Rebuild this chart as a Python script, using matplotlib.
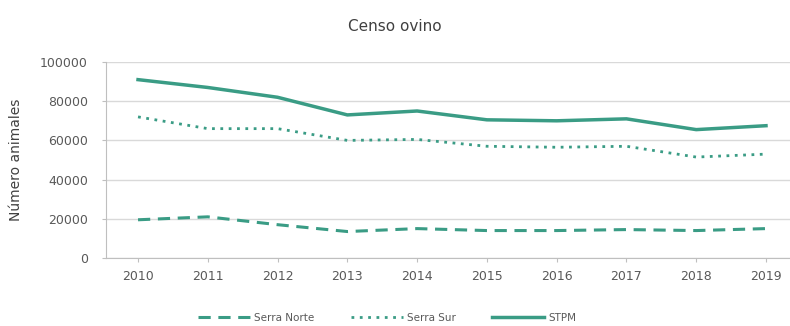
import matplotlib
matplotlib.use("Agg")
import matplotlib.pyplot as plt

years = [2010, 2011, 2012, 2013, 2014, 2015, 2016, 2017, 2018, 2019]
serra_norte = [19500, 21000, 17000, 13500, 15000, 14000, 14000, 14500, 14000, 15000]
serra_sur = [72000, 66000, 66000, 60000, 60500, 57000, 56500, 57000, 51500, 53000]
stpm = [91000, 87000, 82000, 73000, 75000, 70500, 70000, 71000, 65500, 67500]

col = "#3a9c85"
txt = "#595959"

fig = plt.figure(figsize=(7.9, 3.26), dpi=100)
ax = fig.add_axes([106/790, 68/326, 684/790, 196/326])
x = list(range(len(years)))
ax.plot(x, serra_norte, color=col, lw=2.2, dashes=(4, 2.5), label="Serra Norte")
ax.plot(x, serra_sur, color=col, lw=2.0, ls=(0, (1, 2)), label="Serra Sur")
ax.plot(x, stpm, color=col, lw=2.5, label="STPM")

ax.set_xlim(-0.459, 9.344)
ax.set_ylim(0, 100000)
ax.set_yticks(range(0, 100001, 20000))
ax.set_xticks(x)
ax.set_xticklabels([str(y) for y in years])
ax.tick_params(colors=txt, labelsize=9, length=3, color="#bfbfbf")
ax.tick_params(axis="y", pad=10)
ax.tick_params(axis="x", pad=6)
ax.grid(axis="y", color="#d9d9d9", lw=1)
ax.set_axisbelow(True)
for s in ["top", "right"]:
    ax.spines[s].set_visible(False)
ax.spines["left"].set_color("#bfbfbf")
ax.spines["bottom"].set_color("#bfbfbf")
ax.set_ylabel("Número animales", color="#404040", fontsize=10, labelpad=12)
fig.text(0.5, 0.92, "Censo ovino", ha="center", va="center", fontsize=11, color="#404040")
fig.legend(loc="center", bbox_to_anchor=(0.49, 0.025), ncol=3, frameon=False,
           fontsize=7.5, labelcolor=txt, handlelength=5, handletextpad=0.4,
           columnspacing=3.5)
fig.savefig("out.png", dpi=100)
